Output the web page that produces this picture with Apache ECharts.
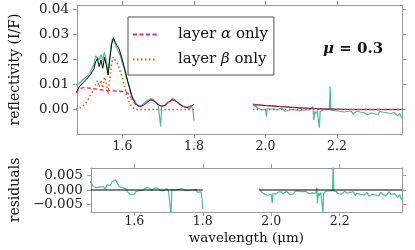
<!DOCTYPE html>
<html><head><meta charset="utf-8">
<script src="https://cdn.jsdelivr.net/npm/echarts@6/dist/echarts.min.js"></script>
<style>html,body{margin:0;padding:0;background:#fff}#c{width:415px;height:250px}</style>
</head><body><div id="c"></div>
<script>
// ---------- data ----------
const xTicks = [1.6, 1.8, 2.0, 2.2];
const yTicksTop = [0.00, 0.01, 0.02, 0.03, 0.04];
const yTicksRes = [-0.005, 0.000, 0.005];
const legendNames = ['layer α only', 'layer β only'];
const muLabel = '= 0.3';

const wlModelL = [1.470,1.475,1.480,1.485,1.490,1.495,1.500,1.505,1.510,1.515,
1.520,1.525,1.530,1.535,1.540,1.545,1.550,1.555,1.560,1.565,
1.570,1.575,1.580,1.585,1.590,1.595,1.600,1.605,1.610,1.615,
1.620,1.625,1.630,1.635,1.640,1.645,1.650,1.655,1.660,1.665,
1.670,1.675,1.680,1.685,1.690,1.695,1.700,1.705,1.710,1.715,
1.720,1.725,1.730,1.735,1.740,1.745,1.750,1.755,1.760,1.765,
1.770,1.775,1.780,1.785,1.790,1.795,1.800];
const totalL = [0.0068,0.0078,0.0092,0.0098,0.0108,0.0112,0.0122,0.0130,0.0138,0.0150,
0.0162,0.0190,0.0204,0.0172,0.0197,0.0165,0.0208,0.0178,0.0138,0.0205,
0.0262,0.0285,0.0268,0.0256,0.0245,0.0222,0.0198,0.0170,0.0142,0.0112,
0.0086,0.0060,0.0040,0.0027,0.0018,0.0013,0.0012,0.0014,0.0018,0.0024,
0.0030,0.0036,0.0040,0.0039,0.0032,0.0026,0.0020,0.0016,0.0013,0.0014,
0.0018,0.0024,0.0030,0.0036,0.0040,0.0039,0.0034,0.0028,0.0022,0.0017,
0.0012,0.0009,0.0008,0.0009,0.0013,0.0018,0.0020];
const alphaL = [0.0066,0.0074,0.0082,0.0086,0.0088,0.0088,0.0087,0.0086,0.0085,0.0084,
0.0083,0.0082,0.0081,0.0080,0.0079,0.0078,0.0077,0.0077,0.0076,0.0075,
0.0075,0.0074,0.0074,0.0073,0.0073,0.0072,0.0072,0.0071,0.0070,0.0066,
0.0058,0.0045,0.0033,0.0024,0.0017,0.0013,0.0012,0.0014,0.0018,0.0024,
0.0030,0.0036,0.0040,0.0039,0.0032,0.0026,0.0020,0.0016,0.0013,0.0014,
0.0018,0.0024,0.0030,0.0036,0.0040,0.0039,0.0034,0.0028,0.0022,0.0017,
0.0012,0.0009,0.0008,0.0009,0.0013,0.0018,0.0020];
const betaL = [0.0000,0.0002,0.0005,0.0009,0.0014,0.0020,0.0030,0.0042,0.0057,0.0068,
0.0080,0.0098,0.0115,0.0090,0.0118,0.0086,0.0130,0.0104,0.0062,0.0128,
0.0185,0.0210,0.0197,0.0186,0.0170,0.0148,0.0124,0.0098,0.0070,0.0045,
0.0026,0.0012,0.0004,0.0001,0.0000,0.0000,0.0000,0.0000,0.0000,0.0000,
0.0000,0.0000,0.0000,0.0000,0.0000,0.0000,0.0000,0.0000,0.0000,0.0000,
0.0000,0.0000,0.0000,0.0000,0.0000,0.0000,0.0000,0.0000,0.0000,0.0000,
0.0000,0.0000,0.0000,0.0000,0.0000,0.0000,0.0000];

const wlModelR = [1.965,2.000,2.050,2.100,2.150,2.200,2.250,2.300,2.350,2.385];
const totalR = [0.0020,0.0016,0.0011,0.0006,0.0003,0.0001,0.0000,0.0000,0.0000,0.0000];
const alphaR = [0.0019,0.0016,0.0011,0.0006,0.0003,0.0001,0.0000,0.0000,0.0000,0.0000];
const betaR  = [0.0000,0.0000,0.0000,0.0000,0.0000,0.0000,0.0000,0.0000,0.0000,0.0000];

const wlObsL = [1.470,1.475,1.480,1.485,1.490,1.495,1.500,1.505,1.510,1.515,
1.520,1.525,1.530,1.535,1.540,1.545,1.550,1.555,1.560,1.565,
1.570,1.575,1.580,1.585,1.590,1.595,1.600,1.605,1.610,1.615,
1.620,1.625,1.630,1.635,1.640,1.645,1.650,1.655,1.660,1.665,
1.670,1.675,1.680,1.685,1.690,1.695,1.700,1.705,1.707,1.710,
1.715,1.720,1.725,1.730,1.735,1.740,1.745,1.750,1.755,1.760,
1.765,1.770,1.775,1.780,1.785,1.790,1.795,1.798,1.800];
const obsL = [0.0098,0.0100,0.0104,0.0114,0.0116,0.0126,0.0132,0.0136,0.0149,0.0154,
0.0180,0.0214,0.0220,0.0200,0.0219,0.0200,0.0230,0.0190,0.0155,0.0213,
0.0273,0.0289,0.0262,0.0244,0.0229,0.0212,0.0184,0.0165,0.0133,0.0110,
0.0089,0.0059,0.0045,0.0035,0.0021,0.0019,0.0010,0.0018,0.0025,0.0026,
0.0036,0.0035,0.0044,0.0036,0.0034,0.0031,0.0018,0.0019,-0.0068,0.0015,
0.0020,0.0017,0.0028,0.0032,0.0033,0.0045,0.0040,0.0032,0.0031,0.0021,
0.0021,0.0012,0.0005,0.0010,0.0001,0.0003,0.0012,-0.0011,-0.0045];
const residL = [0.0030,0.0022,0.0012,0.0016,0.0008,0.0014,0.0010,0.0006,0.0011,0.0004,
0.0018,0.0024,0.0016,0.0028,0.0022,0.0035,0.0026,0.0012,0.0017,0.0008,
0.0011,0.0004,-0.0006,-0.0012,-0.0016,-0.0010,-0.0014,-0.0005,-0.0009,-0.0002,
0.0003,-0.0001,0.0005,0.0008,0.0003,0.0006,-0.0002,0.0004,0.0007,0.0002,
0.0006,-0.0001,0.0004,-0.0003,0.0002,0.0005,-0.0002,0.0003,-0.0083,0.0002,
0.0006,-0.0001,0.0004,0.0002,-0.0003,0.0005,0.0001,-0.0002,0.0003,-0.0001,
0.0004,0.0000,-0.0004,0.0002,-0.0008,-0.0010,-0.0006,-0.0030,-0.0065];

const wlObsR = [1.965,1.970,1.975,1.980,1.985,1.990,1.995,2.000,2.003,2.005,
2.010,2.015,2.020,2.025,2.030,2.035,2.040,2.045,2.050,2.055,
2.060,2.065,2.070,2.075,2.080,2.085,2.090,2.095,2.100,2.105,
2.110,2.115,2.120,2.125,2.130,2.133,2.135,2.138,2.140,2.145,
2.149,2.151,2.153,2.155,2.160,2.165,2.170,2.175,2.179,2.181,
2.183,2.185,2.190,2.195,2.200,2.205,2.210,2.215,2.220,2.225,
2.230,2.235,2.240,2.245,2.250,2.255,2.260,2.265,2.270,2.275,
2.280,2.285,2.290,2.295,2.300,2.305,2.310,2.315,2.320,2.325,
2.330,2.335,2.340,2.345,2.350,2.355,2.360,2.365,2.370,2.375,
2.380,2.385];
const obsR = [0.0025,0.0015,0.0009,0.0004,0.0007,-0.0001,0.0004,0.0000,-0.0028,0.0004,
0.0006,0.0001,0.0007,0.0002,0.0007,-0.0001,0.0004,0.0007,0.0001,-0.0007,
-0.0011,-0.0003,0.0005,0.0000,0.0005,-0.0002,0.0001,-0.0005,0.0002,-0.0003,
-0.0008,-0.0002,-0.0006,-0.0001,-0.0008,0.0012,-0.0042,-0.0007,-0.0017,-0.0006,
-0.0012,-0.0073,-0.0009,-0.0003,-0.0002,-0.0007,-0.0001,-0.0004,0.0000,0.0093,
-0.0003,-0.0007,-0.0004,-0.0011,-0.0006,-0.0014,-0.0008,-0.0003,-0.0010,-0.0016,
-0.0008,-0.0013,-0.0006,-0.0019,-0.0011,-0.0007,-0.0015,-0.0010,-0.0018,-0.0012,
-0.0008,-0.0021,-0.0027,-0.0014,-0.0009,-0.0017,-0.0012,-0.0020,-0.0008,-0.0015,
-0.0011,-0.0019,-0.0013,-0.0006,-0.0016,-0.0022,-0.0012,-0.0018,-0.0025,-0.0016,
-0.0031,-0.0028];
const residR = [0.0005,-0.0004,-0.0010,-0.0014,-0.0011,-0.0018,-0.0013,-0.0016,-0.0044,-0.0012,
-0.0009,-0.0014,-0.0007,-0.0011,-0.0006,-0.0013,-0.0008,-0.0004,-0.0010,-0.0017,
-0.0021,-0.0012,-0.0004,-0.0008,-0.0003,-0.0009,-0.0006,-0.0011,-0.0004,-0.0008,
-0.0013,-0.0007,-0.0010,-0.0005,-0.0012,0.0008,-0.0045,-0.0010,-0.0020,-0.0009,
-0.0015,-0.0076,-0.0012,-0.0006,-0.0004,-0.0009,-0.0003,-0.0006,-0.0002,0.0092,
-0.0004,-0.0008,-0.0005,-0.0012,-0.0007,-0.0015,-0.0009,-0.0004,-0.0011,-0.0017,
-0.0008,-0.0013,-0.0006,-0.0019,-0.0011,-0.0007,-0.0015,-0.0010,-0.0018,-0.0012,
-0.0008,-0.0021,-0.0027,-0.0014,-0.0009,-0.0017,-0.0012,-0.0020,-0.0008,-0.0015,
-0.0011,-0.0019,-0.0013,-0.0006,-0.0016,-0.0022,-0.0012,-0.0018,-0.0025,-0.0016,
-0.0031,-0.0028];
const zeroResL = [0, 0];
const zeroResR = [0, 0];

// ---------- chart ----------
const zip = (xs, ys) => xs.map((x, i) => [x, ys[i]]);
const FONT = 'DejaVu Serif';
const GRAY = '#9a9a9a';
const TEAL = '#4fbd94', MAG = '#e7298a', ORA = '#d95f02';
const XMIN = 1.473, XMAX = 2.382;

function xAx(grid, pos, labels, margin, extra) {
  return Object.assign({
    type: 'value', gridIndex: grid, position: pos, min: XMIN, max: XMAX,
    axisLine: { show: true, onZero: false, lineStyle: { color: GRAY, width: 1 } },
    axisTick: { show: true, inside: false, length: 4, customValues: xTicks, lineStyle: { color: GRAY } },
    axisLabel: { show: labels, customValues: xTicks, formatter: v => v.toFixed(1),
      fontFamily: FONT, fontSize: 12.5, color: '#222', margin: margin },
    splitLine: { show: false }
  }, extra || {});
}
function yAx(grid, pos, min, max, ticks, labels, fmt, extra) {
  return Object.assign({
    type: 'value', gridIndex: grid, position: pos, min: min, max: max,
    axisLine: { show: true, onZero: false, lineStyle: { color: GRAY, width: 1 } },
    axisTick: { show: true, inside: false, length: 4, customValues: ticks, lineStyle: { color: GRAY } },
    axisLabel: { show: labels, customValues: ticks, formatter: fmt,
      fontFamily: FONT, fontSize: 13.5, color: '#222', margin: 8 },
    splitLine: { show: false }
  }, extra || {});
}
const fmtTop = v => v.toFixed(2);
const fmtRes = v => (Math.abs(v) < 1e-12 ? '0.000' : (v < 0 ? '\u2212' + (-v).toFixed(3) : v.toFixed(3)));

function ln(name, data, xi, yi, color, width, type, z) {
  return { name: name, type: 'line', xAxisIndex: xi, yAxisIndex: yi, data: data,
    showSymbol: false, symbol: 'none', clip: true, z: z,
    lineStyle: { color: color, width: width, type: type }, itemStyle: { color: color } };
}

const series = [
  ln('obs', zip(wlObsL, obsL), 0, 0, TEAL, 1.2, 'solid', 2),
  ln('obs', zip(wlObsR, obsR), 0, 0, TEAL, 1.2, 'solid', 2),
  ln('total', zip(wlModelL, totalL), 0, 0, '#000', 1, 'solid', 3),
  ln('total', zip(wlModelR, totalR), 0, 0, '#000', 1, 'solid', 3),
  ln(legendNames[0], zip(wlModelL, alphaL), 0, 0, MAG, 1.3, [4, 2.5], 4),
  ln(legendNames[0], zip(wlModelR, alphaR), 0, 0, MAG, 1.3, [4, 2.5], 4),
  ln(legendNames[1], zip(wlModelL, betaL), 0, 0, ORA, 1.5, [1.5, 2.5], 5),
  ln(legendNames[1], zip(wlModelR, betaR), 0, 0, ORA, 1.5, [1.5, 2.5], 5),
  ln('res', zip(wlObsL, residL), 2, 2, TEAL, 1.2, 'solid', 2),
  ln('res', zip(wlObsR, residR), 2, 2, TEAL, 1.2, 'solid', 2),
  ln('res0', zip([XMIN, wlObsL[wlObsL.length - 1]], zeroResL), 2, 2, '#000', 1.2, 'solid', 3),
  ln('res0', zip([wlObsR[0], XMAX], zeroResR), 2, 2, '#000', 1.2, 'solid', 3)
];

const option = {
  animation: false,
  backgroundColor: '#fff',
  title: {
    text: '{m|μ} ' + muLabel, left: 318, top: 37,
    textStyle: { fontFamily: FONT, fontSize: 15, fontWeight: 'bold', color: '#111',
      rich: { m: { fontFamily: FONT, fontSize: 15, fontWeight: 'bold', fontStyle: 'italic', color: '#111' } } }
  },
  legend: {
    data: legendNames, orient: 'vertical', left: 128, top: 17,
    padding: [10, 6, 8, 4], itemWidth: 24, itemHeight: 12, itemGap: 10,
    itemStyle: { opacity: 0 },
    backgroundColor: '#fff', borderColor: '#555', borderWidth: 1, borderRadius: 0,
    formatter: n => n.replace('α', '{i|α}').replace('β', '{i|β}'),
    textStyle: { fontFamily: FONT, fontSize: 15, color: '#111', padding: [0, 0, 0, 16],
      rich: { i: { fontFamily: FONT, fontSize: 15, fontStyle: 'italic', color: '#111' } } }
  },
  grid: [
    { left: 70, top: 5, width: 332, height: 129 },
    { left: 70, top: 168, width: 332, height: 44 }
  ],
  xAxis: [
    xAx(0, 'bottom', true, 6),
    xAx(0, 'top', false, 6),
    xAx(1, 'bottom', true, 3, { name: 'wavelength (μm)', nameLocation: 'middle', nameGap: 19,
      nameTextStyle: { fontFamily: FONT, fontSize: 13.5, color: '#111' } }),
    xAx(1, 'top', false, 6)
  ],
  yAxis: [
    yAx(0, 'left', -0.0098, 0.0418, yTicksTop, true, fmtTop,
      { name: 'reflectivity (I/F)', nameLocation: 'middle', nameGap: 55,
        nameTextStyle: { fontFamily: FONT, fontSize: 14, color: '#111' } }),
    yAx(0, 'right', -0.0098, 0.0418, yTicksTop, false, fmtTop),
    yAx(1, 'left', -0.0075, 0.0075, yTicksRes, true, fmtRes,
      { name: 'residuals', nameLocation: 'middle', nameGap: 55,
        nameTextStyle: { fontFamily: FONT, fontSize: 14, color: '#111' } }),
    yAx(1, 'right', -0.0075, 0.0075, yTicksRes, false, fmtRes)
  ],
  series: series
};
const chart = echarts.init(document.getElementById('c'), null, { renderer: 'canvas' });
chart.setOption(option);
</script></body></html>
